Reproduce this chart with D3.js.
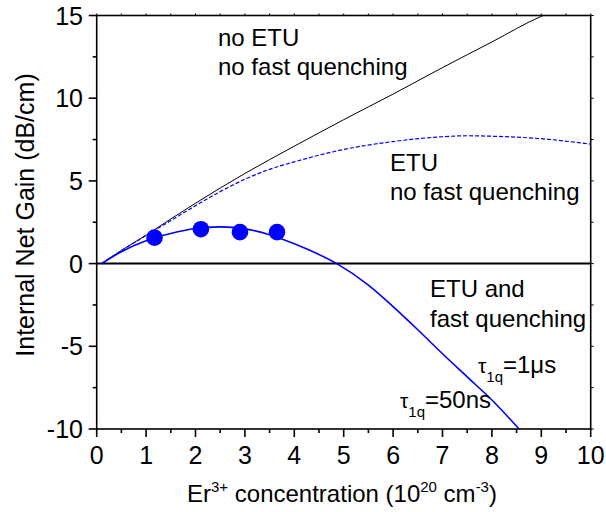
<!DOCTYPE html>
<html>
<head>
<meta charset="utf-8">
<script src="https://cdn.jsdelivr.net/npm/d3@7"></script>
<style>
  body { margin: 0; background: #fff; }
  svg { display: block; font-family: "Liberation Sans", Arial, sans-serif; }
</style>
</head>
<body>
<div id="chart"></div>
<script>
const width = 606;
const height = 512;

// no ETU, no fast quenching (black solid)
const noEtuX = [0.1, 0.5, 1, 1.5, 2, 3, 4, 5, 6, 7, 8, 9, 9.04];
const noEtuY = [0, 0.8, 1.72, 2.7, 3.65, 5.45, 7.1, 8.7, 10.25, 11.85, 13.4, 14.95, 15];

// ETU, no fast quenching (blue dashed)
const etuX = [0.1, 0.5, 1, 1.5, 2, 2.5, 3, 3.5, 4, 5, 6, 7, 7.5, 8, 9, 10];
const etuY = [0, 0.78, 1.7, 2.6, 3.5, 4.35, 5.1, 5.7, 6.15, 6.9, 7.38, 7.67, 7.73, 7.7, 7.55, 7.22];

// ETU and fast quenching (blue solid)
const fqX = [0.1, 0.5, 1, 1.5, 2, 2.5, 3, 3.5, 4, 4.5, 4.86, 5.5, 6, 6.5, 7, 7.5, 8, 8.55];
const fqY = [0, 0.72, 1.38, 1.82, 2.12, 2.22, 2.1, 1.75, 1.2, 0.55, 0, -1.3, -2.6, -4.0, -5.45, -6.85, -8.25, -10];

// measured points
const dotX = [1.17, 2.11, 2.9, 3.65];
const dotY = [1.57, 2.08, 1.9, 1.9];

const xTicks = [0, 1, 2, 3, 4, 5, 6, 7, 8, 9, 10];
const yTicks = [-10, -5, 0, 5, 10, 15];

const x = d3.scaleLinear().domain([0, 10]).range([96.7, 590.7]);
const y = d3.scaleLinear().domain([-10, 15]).range([429, 15.5]);

const svg = d3.select("#chart").append("svg")
  .attr("width", width)
  .attr("height", height);

const line = d3.line()
  .x(d => x(d[0]))
  .y(d => y(d[1]))
  .curve(d3.curveMonotoneX);

// zero line
svg.append("line")
  .attr("x1", x(0)).attr("x2", x(10))
  .attr("y1", y(0)).attr("y2", y(0))
  .attr("stroke", "#000").attr("stroke-width", 2);

svg.append("path")
  .attr("d", line(d3.zip(noEtuX, noEtuY)))
  .attr("fill", "none").attr("stroke", "#000").attr("stroke-width", 1);

svg.append("path")
  .attr("d", line(d3.zip(etuX, etuY)))
  .attr("fill", "none").attr("stroke", "#0000ff").attr("stroke-width", 1.2)
  .attr("stroke-dasharray", "4,2");

svg.append("path")
  .attr("d", line(d3.zip(fqX, fqY)))
  .attr("fill", "none").attr("stroke", "#0000ff").attr("stroke-width", 1.6);

svg.selectAll("circle.dot")
  .data(d3.zip(dotX, dotY))
  .join("circle")
  .attr("class", "dot")
  .attr("cx", d => x(d[0]))
  .attr("cy", d => y(d[1]))
  .attr("r", 8.3)
  .attr("fill", "#0000ff");

// frame
const ax = svg.append("g").attr("stroke", "#000").attr("stroke-width", 1.6);
ax.append("rect")
  .attr("x", x(0)).attr("y", y(15))
  .attr("width", x(10) - x(0)).attr("height", y(-10) - y(15))
  .attr("fill", "none");

// x ticks
const xMinor = d3.range(0.5, 10, 1);
xTicks.forEach(t => {
  ax.append("line").attr("x1", x(t)).attr("x2", x(t)).attr("y1", y(-10)).attr("y2", y(-10) + 8);
  ax.append("line").attr("x1", x(t)).attr("x2", x(t)).attr("y1", y(15)).attr("y2", y(15) - 2)
    .attr("stroke-width", 1);
});
xMinor.forEach(t => {
  ax.append("line").attr("x1", x(t)).attr("x2", x(t)).attr("y1", y(-10)).attr("y2", y(-10) + 4);
  ax.append("line").attr("x1", x(t)).attr("x2", x(t)).attr("y1", y(15)).attr("y2", y(15) - 2)
    .attr("stroke-width", 1);
});

// y ticks
const yMinor = d3.range(-7.5, 15, 5);
yTicks.forEach(t => {
  ax.append("line").attr("x1", x(0)).attr("x2", x(0) - 8).attr("y1", y(t)).attr("y2", y(t));
  ax.append("line").attr("x1", x(10)).attr("x2", x(10) + 3).attr("y1", y(t)).attr("y2", y(t))
    .attr("stroke-width", 1);
});
yMinor.forEach(t => {
  ax.append("line").attr("x1", x(0)).attr("x2", x(0) - 4).attr("y1", y(t)).attr("y2", y(t));
  ax.append("line").attr("x1", x(10)).attr("x2", x(10) + 3).attr("y1", y(t)).attr("y2", y(t))
    .attr("stroke-width", 1);
});

svg.selectAll("text.xt")
  .data(xTicks)
  .join("text")
  .attr("class", "xt")
  .attr("x", d => x(d))
  .attr("y", 464)
  .attr("text-anchor", "middle")
  .attr("font-size", 25)
  .text(d => d);

svg.selectAll("text.yt")
  .data(yTicks)
  .join("text")
  .attr("class", "yt")
  .attr("x", 83)
  .attr("y", d => y(d) + 9)
  .attr("text-anchor", "end")
  .attr("font-size", 25)
  .text(d => d);

// axis titles
const xt = svg.append("text")
  .attr("x", 342).attr("y", 502)
  .attr("text-anchor", "middle")
  .attr("font-size", 24);
xt.append("tspan").text("Er");
xt.append("tspan").attr("font-size", 15).attr("dy", -10).text("3+");
xt.append("tspan").attr("dy", 10).text(" concentration (10");
xt.append("tspan").attr("font-size", 15).attr("dy", -10).text("20");
xt.append("tspan").attr("dy", 10).text(" cm");
xt.append("tspan").attr("font-size", 15).attr("dy", -10).text("-3");
xt.append("tspan").attr("dy", 10).text(")");

svg.append("text")
  .attr("transform", "translate(34,215) rotate(-90)")
  .attr("text-anchor", "middle")
  .attr("font-size", 25)
  .text("Internal Net Gain (dB/cm)");

// annotations
const notes = [
  { t: "no ETU", x: 218, y: 46 },
  { t: "no fast quenching", x: 218, y: 75 },
  { t: "ETU", x: 390, y: 171 },
  { t: "no fast quenching", x: 390, y: 200 },
  { t: "ETU and", x: 430, y: 297 },
  { t: "fast quenching", x: 430, y: 327 }
];
svg.selectAll("text.note")
  .data(notes)
  .join("text")
  .attr("class", "note")
  .attr("x", d => d.x).attr("y", d => d.y)
  .attr("font-size", 24)
  .text(d => d.t);

function tau(px, py, rest) {
  const t = svg.append("text").attr("x", px).attr("y", py).attr("font-size", 24);
  t.append("tspan").attr("font-size", 21).text("τ");
  t.append("tspan").attr("font-size", 15).attr("dy", 9).text("1q");
  t.append("tspan").attr("dy", -9).text(rest);
}
tau(478, 373, "=1μs");
tau(400, 408, "=50ns");
</script>
</body>
</html>
